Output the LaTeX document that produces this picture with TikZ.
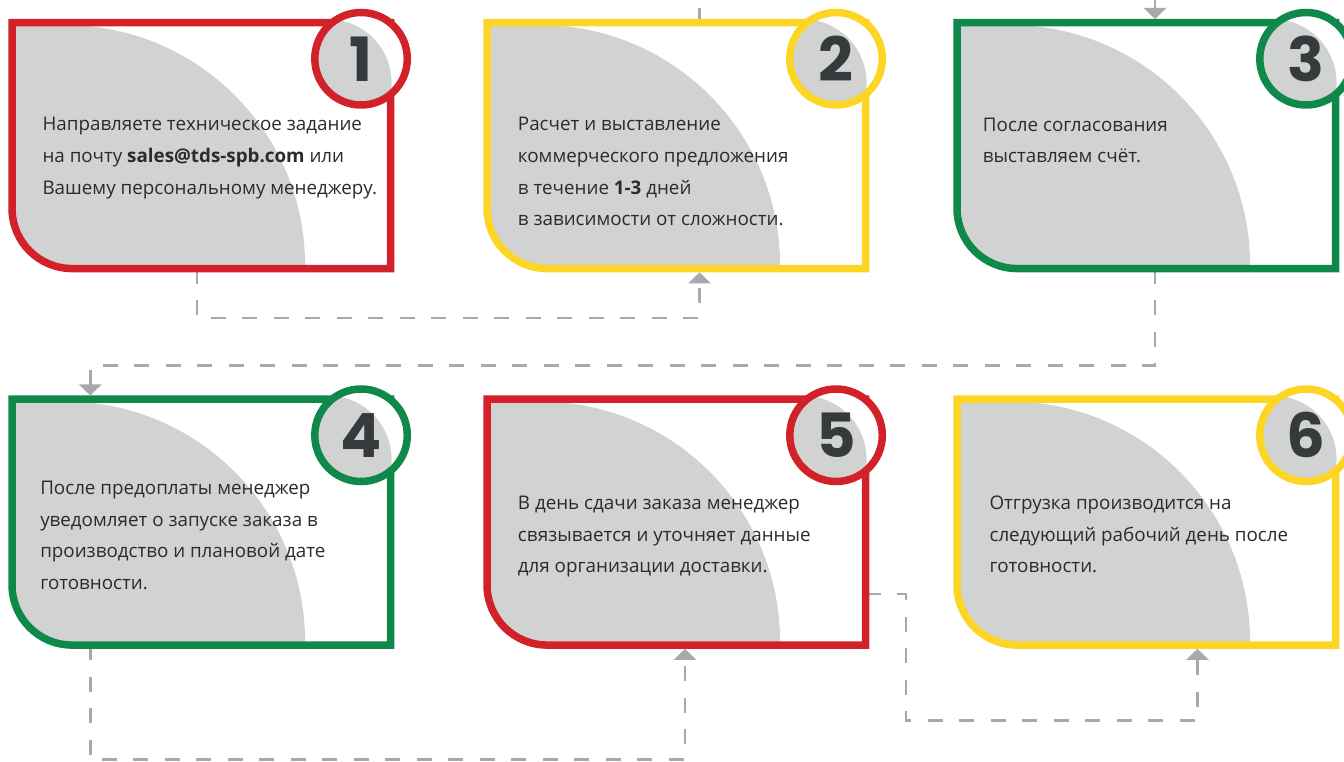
\documentclass[tikz,border=0pt]{standalone}
\usepackage{fontspec}
\setmainfont{Open Sans}
\newfontfamily\numfont{Poppins}
\usepackage{xcolor}
\usepackage{tikz}
\usetikzlibrary{arrows.meta}

\definecolor{cred}{HTML}{D22128}
\definecolor{cyel}{HTML}{FDD524}
\definecolor{cgrn}{HTML}{0F894A}
\definecolor{cgray}{HTML}{D1D3D2}
\definecolor{clink}{HTML}{A7A9AC}
\definecolor{cnum}{HTML}{373A3D}
\definecolor{ctext}{HTML}{2B2B2B}

\begin{document}
\begin{tikzpicture}[x=1pt, y=1pt, node distance=475pt,
  card/.style={rectangle, minimum width=378.5pt, minimum height=245.8pt, inner sep=0pt, outer sep=0pt,
    path picture={\fill[cgray] (path picture bounding box.north west) -- ([yshift=60pt]path picture bounding box.south west) arc[start angle=180, end angle=270, radius=60pt] -- ([xshift=293pt]path picture bounding box.south west) -- ++(0,3.5pt) arc[start angle=0, end angle=90, radius=240pt] -- cycle;}},
  frame/.style={line width=7.5pt},
  num/.style={circle, fill=white, line width=7.5pt, minimum size=92.5pt, inner sep=0pt, text=cnum, font=\numfont\bfseries\fontsize{61}{61}\selectfont,
    path picture={\fill[cgray] ([shift={(-33pt,-24pt)}]path picture bounding box.center) circle (63.5pt);}},
  txt/.style={anchor=base west, align=left, inner sep=0pt, text=ctext, font=\fontsize{18.8}{31.7}\selectfont},
  link/.style={draw=clink, line width=2.6pt, dash pattern=on 15pt off 16.5pt, shorten >=3.75pt, -{Triangle[width=22pt, length=11pt]}}]
\useasboundingbox (0,0) rectangle (1344,761);

\node (card1) [card] at (201.3,615.35) {};
\node (card2) [card, right of=card1] {};
\node (card3) [card, right of=card2, xshift=-5pt] {};
\node (card4) [card, below of=card1, yshift=98.5pt] {};
\node (card5) [card, right of=card4] {};
\node (card6) [card, right of=card5, xshift=-5pt] {};

% connectors
\coordinate (top2) at (699.5,761);
\coordinate (top3) at (1155,761);
\draw[link, -] (card2.north -| top2) -- (top2);
\draw[link] (top3) -- (card3.north -| top3);
\draw[link] ([xshift=-4.3pt]card1.south) -- ++(0,-49.5) -| ([xshift=23.2pt]card2.south);
\draw[link] ([xshift=8.5pt]card3.south) -- ++(0,-97.15) -| ([xshift=-111pt]card4.north);
\draw[link] ([xshift=-111pt]card4.south) -- ++(0,-114.45) -| ([xshift=8.7pt]card5.south);
\draw[link] ([yshift=-71.85pt]card5.east) -- ++(40.45,0) -- ++(0,-126.7) -| ([xshift=51.2pt]card6.south);

% borders
\draw[frame, cred] (card1.north west) -- (card1.north east) -- (card1.south east) -- ([xshift=60pt]card1.south west) arc[start angle=270, end angle=180, radius=60pt] -- cycle;
\draw[frame, cyel] (card2.north west) -- (card2.north east) -- (card2.south east) -- ([xshift=60pt]card2.south west) arc[start angle=270, end angle=180, radius=60pt] -- cycle;
\draw[frame, cgrn] (card3.north west) -- (card3.north east) -- (card3.south east) -- ([xshift=60pt]card3.south west) arc[start angle=270, end angle=180, radius=60pt] -- cycle;
\draw[frame, cgrn] (card4.north west) -- (card4.north east) -- (card4.south east) -- ([xshift=60pt]card4.south west) arc[start angle=270, end angle=180, radius=60pt] -- cycle;
\draw[frame, cred] (card5.north west) -- (card5.north east) -- (card5.south east) -- ([xshift=60pt]card5.south west) arc[start angle=270, end angle=180, radius=60pt] -- cycle;
\draw[frame, cyel] (card6.north west) -- (card6.north east) -- (card6.south east) -- ([xshift=60pt]card6.south west) arc[start angle=270, end angle=180, radius=60pt] -- cycle;

% numbers
\node (num1) [num, draw=cred] at ([xshift=-29.5pt,yshift=-36pt]card1.north east) {1};
\node (num2) [num, draw=cyel] at ([xshift=-29.5pt,yshift=-36pt]card2.north east) {2};
\node (num3) [num, draw=cgrn] at ([xshift=-29.5pt,yshift=-36pt]card3.north east) {3};
\node (num4) [num, draw=cgrn] at ([xshift=-29.5pt,yshift=-36pt]card4.north east) {4};
\node (num5) [num, draw=cred] at ([xshift=-29.5pt,yshift=-36pt]card5.north east) {5};
\node (num6) [num, draw=cyel] at ([xshift=-29.5pt,yshift=-36pt]card6.north east) {6};

% texts (base = last line)
\node (txt1) [txt] at ([xshift=30.3pt,yshift=-171.4pt]card1.north west) {Направляете техническое задание\\на почту \textbf{sales@tds-spb.com} или\\Вашему персональному менеджеру.};
\node (txt2) [txt] at ([xshift=30.7pt,yshift=-203.1pt]card2.north west) {Расчет и выставление\\коммерческого предложения\\в течение \textbf{1-3} дней\\в зависимости от сложности.};
\node (txt3) [txt] at ([xshift=25.7pt,yshift=-140.2pt]card3.north west) {После согласования\\выставляем счёт.};
\node (txt4) [txt] at ([xshift=28pt,yshift=-190.4pt]card4.north west) {После предоплаты менеджер\\уведомляет о запуске заказа в\\производство и плановой дате\\готовности.};
\node (txt5) [txt] at ([xshift=30.7pt,yshift=-173.7pt]card5.north west) {В день сдачи заказа менеджер\\связывается и уточняет данные\\для организации доставки.};
\node (txt6) [txt] at ([xshift=32.3pt,yshift=-173.7pt]card6.north west) {Отгрузка производится на\\следующий рабочий день после\\готовности.};
\end{tikzpicture}
\end{document}
